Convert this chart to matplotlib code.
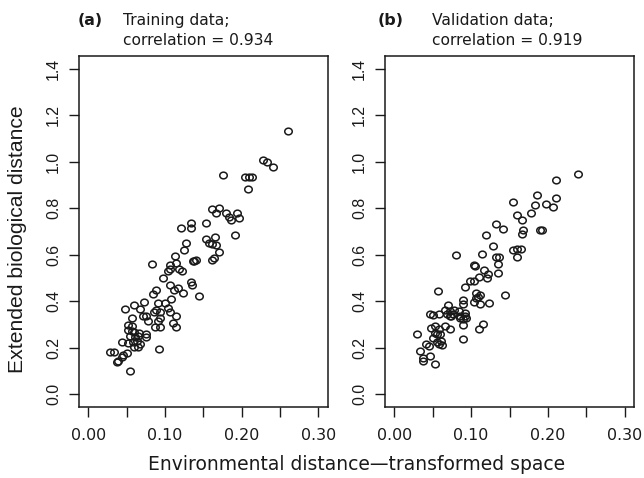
import matplotlib
matplotlib.use('Agg')
import matplotlib.pyplot as plt
from matplotlib.path import Path
from matplotlib.transforms import Affine2D

# ---- data ----
train_x = [0.261, 0.228, 0.233, 0.241, 0.176, 0.204, 0.209, 0.213, 0.208, 0.162,
           0.171, 0.166, 0.180, 0.183, 0.186, 0.194, 0.197, 0.154, 0.134, 0.134,
           0.121, 0.191, 0.154, 0.165, 0.157, 0.162, 0.167, 0.170, 0.162, 0.164,
           0.128, 0.125, 0.113, 0.115, 0.107, 0.104, 0.107, 0.118, 0.122, 0.136,
           0.138, 0.141, 0.083, 0.098, 0.106, 0.112, 0.117, 0.123, 0.134, 0.135,
           0.145, 0.108, 0.089, 0.085, 0.100, 0.091, 0.073, 0.067, 0.060, 0.048,
           0.086, 0.089, 0.093, 0.104, 0.107, 0.071, 0.075, 0.078, 0.057, 0.114,
           0.094, 0.091, 0.111, 0.115, 0.087, 0.094, 0.052, 0.057, 0.052, 0.057,
           0.060, 0.066, 0.065, 0.075, 0.075, 0.054, 0.061, 0.059, 0.063, 0.044,
           0.052, 0.067, 0.065, 0.060, 0.092, 0.029, 0.034, 0.050, 0.045, 0.044,
           0.039, 0.038, 0.054]
train_y = [1.133, 1.007, 1.000, 0.976, 0.943, 0.935, 0.935, 0.935, 0.885, 0.799,
           0.801, 0.780, 0.781, 0.763, 0.748, 0.781, 0.760, 0.735, 0.737, 0.715,
           0.715, 0.686, 0.669, 0.676, 0.652, 0.648, 0.640, 0.611, 0.578, 0.587,
           0.650, 0.622, 0.594, 0.566, 0.557, 0.529, 0.540, 0.540, 0.528, 0.573,
           0.573, 0.576, 0.558, 0.499, 0.468, 0.449, 0.456, 0.434, 0.482, 0.468,
           0.424, 0.410, 0.446, 0.432, 0.391, 0.391, 0.396, 0.367, 0.384, 0.365,
           0.352, 0.360, 0.352, 0.371, 0.355, 0.338, 0.338, 0.316, 0.328, 0.338,
           0.328, 0.313, 0.306, 0.288, 0.288, 0.288, 0.299, 0.295, 0.276, 0.273,
           0.266, 0.262, 0.252, 0.259, 0.244, 0.252, 0.244, 0.223, 0.230, 0.223,
           0.219, 0.216, 0.204, 0.201, 0.194, 0.183, 0.183, 0.175, 0.170, 0.161,
           0.144, 0.136, 0.101]

valid_x = [0.239, 0.211, 0.211, 0.186, 0.154, 0.183, 0.198, 0.206, 0.178, 0.160,
           0.166, 0.133, 0.141, 0.120, 0.167, 0.166, 0.190, 0.192, 0.128, 0.154,
           0.160, 0.165, 0.160, 0.081, 0.114, 0.132, 0.136, 0.135, 0.135, 0.104,
           0.105, 0.117, 0.122, 0.121, 0.110, 0.099, 0.104, 0.092, 0.057, 0.106,
           0.112, 0.106, 0.109, 0.144, 0.089, 0.090, 0.104, 0.111, 0.123, 0.070,
           0.066, 0.073, 0.078, 0.047, 0.050, 0.058, 0.069, 0.072, 0.076, 0.074,
           0.084, 0.086, 0.092, 0.092, 0.085, 0.090, 0.093, 0.048, 0.053, 0.058,
           0.066, 0.073, 0.090, 0.115, 0.110, 0.053, 0.056, 0.060, 0.051, 0.029,
           0.061, 0.058, 0.062, 0.056, 0.041, 0.045, 0.090, 0.033, 0.047, 0.037,
           0.038, 0.053]
valid_y = [0.948, 0.921, 0.846, 0.857, 0.829, 0.815, 0.819, 0.807, 0.780, 0.772,
           0.750, 0.731, 0.710, 0.687, 0.708, 0.691, 0.706, 0.706, 0.638, 0.619,
           0.623, 0.623, 0.590, 0.598, 0.602, 0.590, 0.590, 0.559, 0.522, 0.554,
           0.551, 0.534, 0.518, 0.501, 0.505, 0.487, 0.487, 0.462, 0.443, 0.436,
           0.425, 0.415, 0.419, 0.427, 0.405, 0.386, 0.397, 0.389, 0.393, 0.382,
           0.364, 0.357, 0.360, 0.343, 0.340, 0.343, 0.345, 0.338, 0.343, 0.335,
           0.357, 0.335, 0.350, 0.335, 0.326, 0.321, 0.326, 0.285, 0.292, 0.281,
           0.292, 0.278, 0.297, 0.302, 0.278, 0.263, 0.259, 0.259, 0.242, 0.259,
           0.228, 0.216, 0.210, 0.225, 0.216, 0.206, 0.237, 0.184, 0.163, 0.155,
           0.144, 0.131]

x_ticks = [0.00, 0.05, 0.10, 0.15, 0.20, 0.25, 0.30]
x_tick_labels = ['0.00', '', '0.10', '', '0.20', '', '0.30']
y_ticks = [0.0, 0.2, 0.4, 0.6, 0.8, 1.0, 1.2, 1.4]
y_tick_labels = ['0.0', '0.2', '0.4', '0.6', '0.8', '1.0', '1.2', '1.4']
panel_letters = ['(a)', '(b)']
panel_line1 = ['Training data;', 'Validation data;']
panel_line2 = ['correlation = 0.934', 'correlation = 0.919']
x_label = 'Environmental distance\u2014transformed space'
y_label = 'Extended biological distance'

W, H = 644, 478
fig = plt.figure(figsize=(W / 100, H / 100), dpi=100)

# slightly wide open circle (the reference is a little stretched horizontally)
circ = Path.unit_circle()
ell_marker = Path(Affine2D().scale(1.12, 1.0).transform(circ.vertices), circ.codes)


def fx(px):
    return px / W


def fy(py):
    return 1 - py / H


ax_boxes = [(79, 327.5), (385, 634)]
top_px, bot_px = 56, 407
letter_x = [78, 378]
text_x = [123, 432]
ink = '#1a1a1a'

datasets = [(train_x, train_y), (valid_x, valid_y)]

for i, ((x0, x1), (xs, ys)) in enumerate(zip(ax_boxes, datasets)):
    ax = fig.add_axes([fx(x0), fy(bot_px), fx(x1 - x0), (bot_px - top_px) / H])
    ax.plot(xs, ys, linestyle='none', marker=ell_marker, markersize=5.4,
            markerfacecolor='none', markeredgecolor=ink, markeredgewidth=1.1)
    ax.set_xlim(-0.012, 0.312)
    ax.set_ylim(-0.056, 1.456)
    ax.set_xticks(x_ticks)
    ax.set_xticklabels(x_tick_labels, fontfamily='DejaVu Sans', fontsize=11.4)
    ax.set_yticks(y_ticks)
    ax.set_yticklabels(y_tick_labels, fontfamily='Liberation Sans', fontsize=11.4,
                       rotation=90, va='center')
    ax.tick_params(axis='x', direction='out', length=7.2, width=1.0, pad=7.8,
                   colors=ink, labelcolor=ink)
    ax.tick_params(axis='y', direction='out', length=7.2, width=1.0, pad=5.8,
                   colors=ink, labelcolor=ink)
    for sp in ax.spines.values():
        sp.set_linewidth(1.1)
        sp.set_color(ink)

    fig.text(fx(letter_x[i]), fy(25), panel_letters[i], fontfamily='DejaVu Sans',
             fontweight='bold', fontsize=11.4, ha='left', va='baseline', color=ink)
    fig.text(fx(text_x[i]), fy(25), panel_line1[i], fontfamily='DejaVu Sans',
             fontsize=11.2, ha='left', va='baseline', color=ink)
    fig.text(fx(text_x[i]), fy(45), panel_line2[i], fontfamily='DejaVu Sans',
             fontsize=11.2, ha='left', va='baseline', color=ink)

fig.text(fx(357), fy(465), x_label, fontfamily='DejaVu Sans', fontsize=13.5,
         ha='center', va='center', color=ink)
fig.text(fx(18), fy(239), y_label, fontfamily='Liberation Sans', fontsize=15.2,
         rotation=90, ha='center', va='center', color=ink)

fig.savefig('out.png', dpi=100, facecolor='white')
